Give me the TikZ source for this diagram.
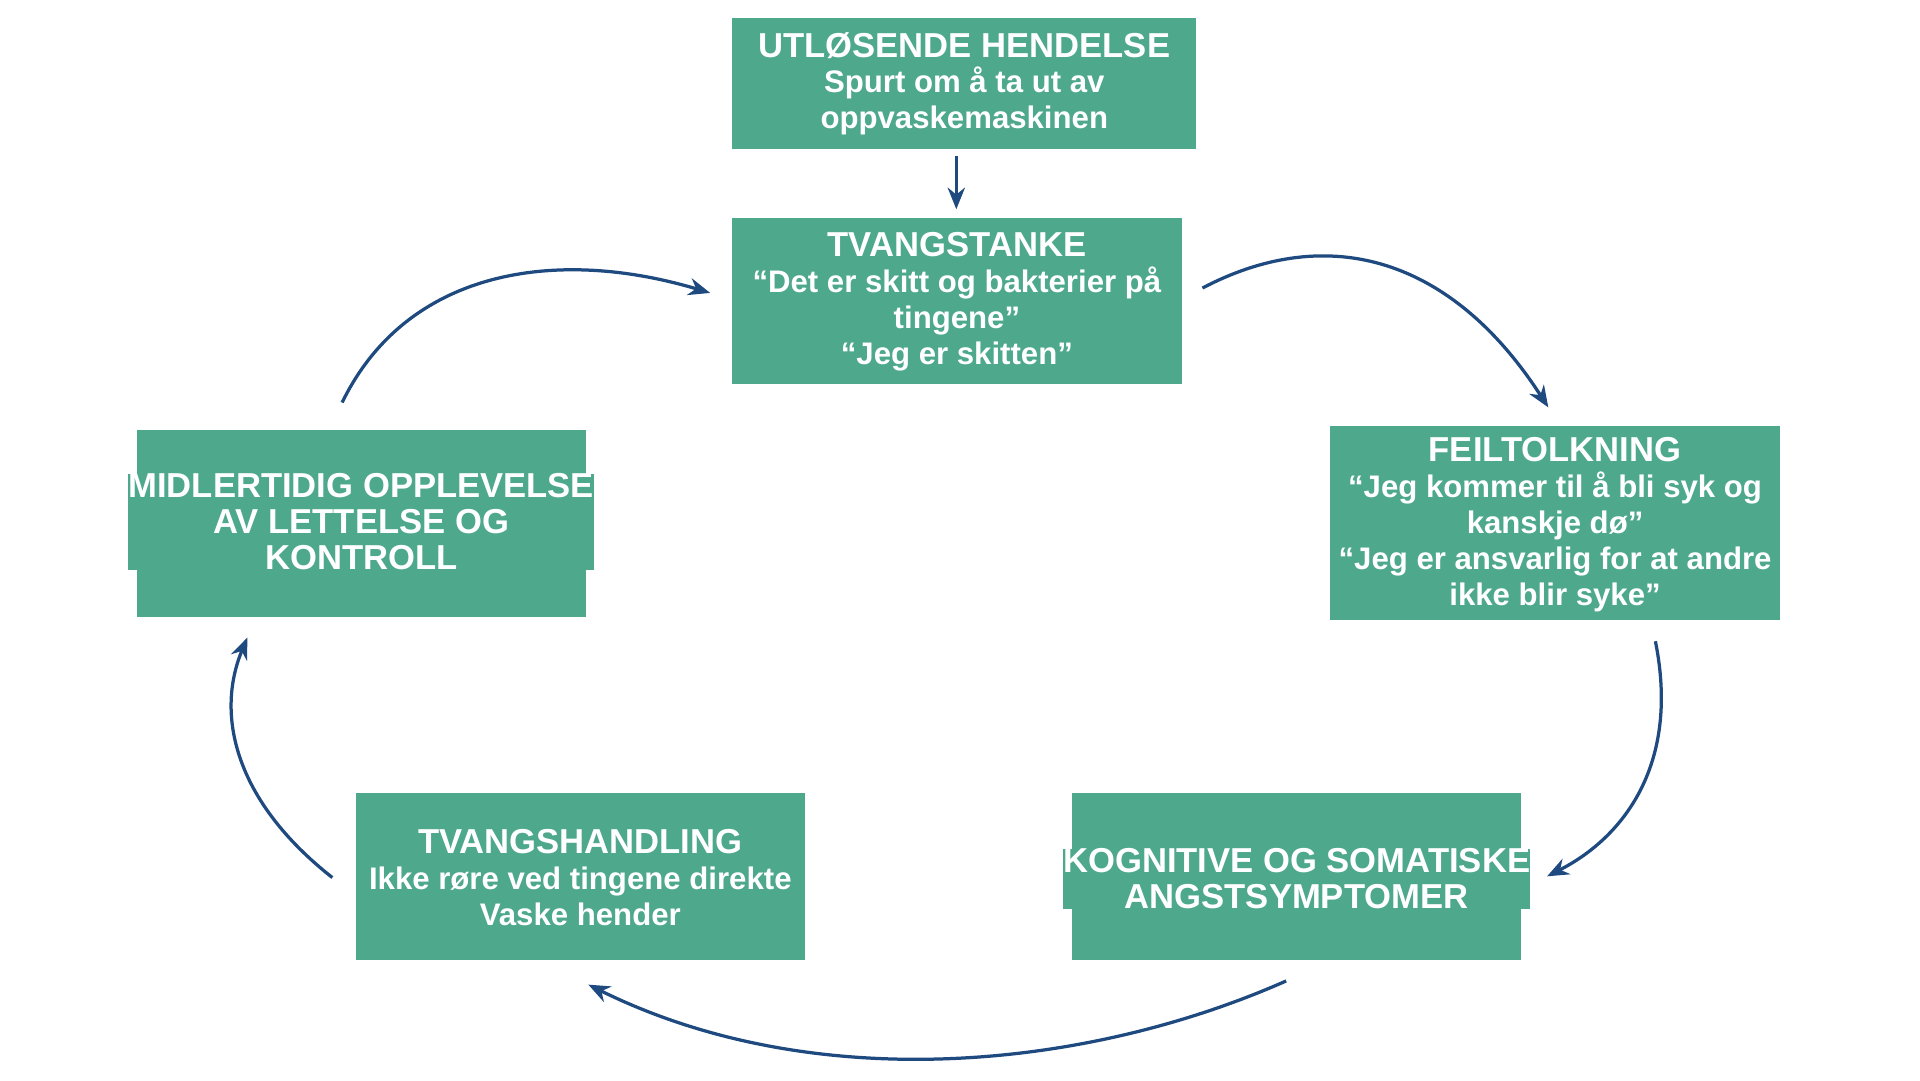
\documentclass[tikz,border=0pt]{standalone}
\usepackage{fontspec}
\setmainfont{Liberation Sans}
\usetikzlibrary{arrows.meta}
\definecolor{boxg}{HTML}{4DA88C}
\definecolor{arr}{HTML}{1F4A80}
\begin{document}
\begin{tikzpicture}[x=0.01cm,y=-0.01cm,
 box/.style={fill=boxg,draw=none,text=white,font=\fontsize{7.2}{8.3}\selectfont\bfseries,align=center,inner sep=0pt},
 con/.style={draw=arr,line width=0.75pt,-{Stealth[length=5pt,width=4pt]}}]
\useasboundingbox (0,0) rectangle (1560,877.5);
\fill[boxg] (595,15) rectangle (972,121); \node[box] (a) at (783.5,68) {{\fontsize{8}{9}\selectfont UTLØSENDE HENDELSE}\\Spurt om å ta ut av\\oppvaskemaskinen};
\fill[boxg] (595,177) rectangle (960,312); \node[box] (b) at (777.5,245) {{\fontsize{8}{9}\selectfont TVANGSTANKE}\\“Det er skitt og bakterier på\\tingene”\\“Jeg er skitten”};
\fill[boxg] (1081,346) rectangle (1446,504); \node[box] (c) at (1263.5,426) {{\fontsize{8}{9}\selectfont FEILTOLKNING}\\“Jeg kommer til å bli syk og\\kanskje dø”\\“Jeg er ansvarlig for at andre\\ikke blir syke”};
\fill[boxg] (871,644) rectangle (1236,780); \node[box] (d) at (1053.5,714) {\fontsize{8}{9}\selectfont KOGNITIVE OG SOMATISKE\\\fontsize{8}{9}\selectfont ANGSTSYMPTOMER};
\fill[boxg] (289,644) rectangle (654,780); \node[box] (e) at (471.5,713) {{\fontsize{8}{9}\selectfont TVANGSHANDLING}\\Ikke røre ved tingene direkte\\Vaske hender};
\fill[boxg] (111,349) rectangle (476,501); \node[box] (f) at (293.5,424) {\fontsize{8}{9}\selectfont MIDLERTIDIG OPPLEVELSE\\\fontsize{8}{9}\selectfont AV LETTELSE OG\\\fontsize{8}{9}\selectfont KONTROLL};
\coordinate (a1) at (777,127); \coordinate (b1) at (777,170);
\coordinate (b2) at (977,234); \coordinate (c1) at (1258,331);
\coordinate (c2) at (1345,521); \coordinate (d1) at (1257,712);
\coordinate (d2) at (1045,797); \coordinate (e1) at (478,800);
\coordinate (e2) at (270,713); \coordinate (f1) at (201,518);
\coordinate (f2) at (278,327); \coordinate (b3) at (577,238);
\draw[con] (a1) -- (b1);
\draw[con] (b2) .. controls (1080,180) and (1180,210) .. (c1);
\draw[con] (c2) .. controls (1365,620) and (1320,680) .. (d1);
\draw[con] (d2) .. controls (880,870) and (660,890) .. (e1);
\draw[con] (e2) .. controls (190,650) and (175,580) .. (f1);
\draw[con] (f2) .. controls (330,220) and (450,200) .. (b3);
\end{tikzpicture}
\end{document}
